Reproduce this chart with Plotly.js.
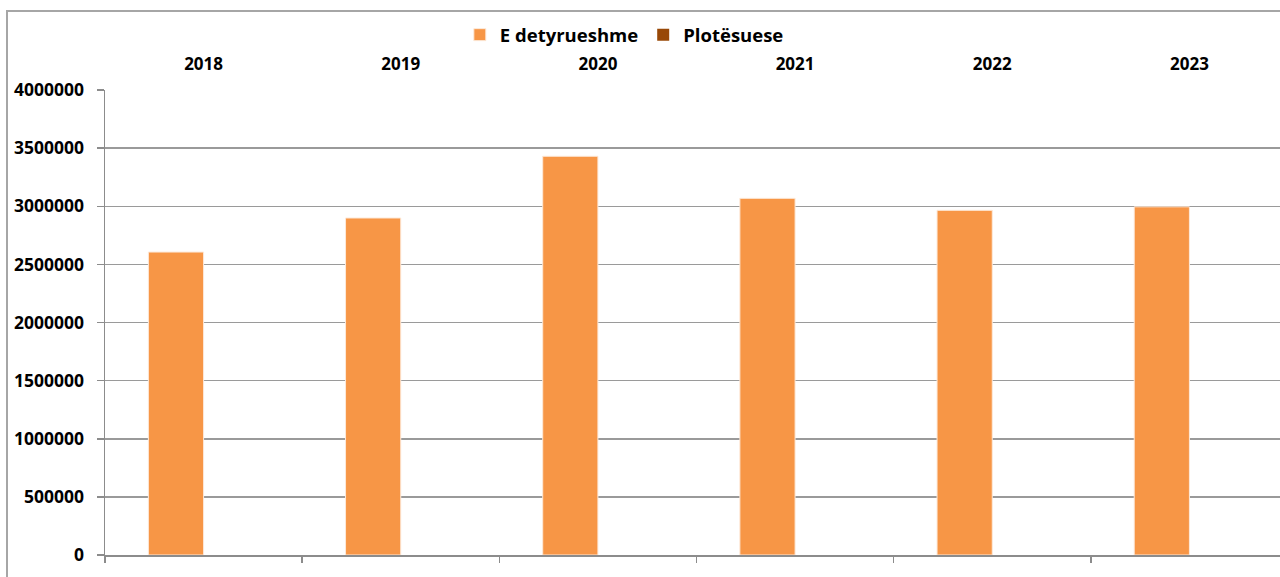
<!DOCTYPE html>
<html>
<head>
<meta charset="utf-8">
<script src="https://cdn.plot.ly/plotly-3.0.1.min.js"></script>
<style>
  html, body { margin: 0; padding: 0; width: 1280px; height: 577px; overflow: hidden; background: #fff; }
  #frame { position: absolute; left: 6px; top: 10px; width: 1320px; height: 620px; border: 2px solid #a6a6a6; box-sizing: border-box; }
  #chart { position: absolute; left: 0; top: 0; }
</style>
</head>
<body>
<div id="frame"></div>
<div id="chart"></div>
<script>
const years = ['2018', '2019', '2020', '2021', '2022', '2023'];
const eDetyrueshme = [2606000, 2899000, 3430000, 3068000, 2965000, 2995000];
const plotesuese = [0, 0, 0, 0, 0, 0];
const yTicks = [0, 500000, 1000000, 1500000, 2000000, 2500000, 3000000, 3500000, 4000000];

const fontFam = '"Open Sans", "Liberation Sans", sans-serif';

const traces = [
  {
    type: 'bar', name: 'E detyrueshme', x: years, y: eDetyrueshme,
    marker: { color: '#F79646', line: { color: '#fde9d9', width: 1 } },
    hoverinfo: 'x+y'
  },
  {
    type: 'bar', name: 'Plotësuese', x: years, y: plotesuese,
    marker: { color: '#984807', line: { width: 0 } },
    hoverinfo: 'x+y'
  },
  {
    type: 'scatter', mode: 'none', x: years, y: eDetyrueshme,
    xaxis: 'x2', showlegend: false, hoverinfo: 'skip'
  }
];

const layout = {
  width: 1300, height: 577,
  margin: { l: 105, r: 12, t: 90, b: 22 },
  paper_bgcolor: 'rgba(0,0,0,0)', plot_bgcolor: 'rgba(0,0,0,0)',
  font: { family: fontFam, size: 17, color: '#000', weight: 'bold' },
  barmode: 'group', bargap: 0.44, bargroupgap: 0,
  showlegend: true,
  legend: {
    orientation: 'h', x: 0.439, xanchor: 'center', y: 1.118, yanchor: 'middle',
    font: { family: fontFam, size: 18.5, color: '#000', weight: 'bold' },
    itemwidth: 30, tracegroupgap: 0, traceorder: 'normal'
  },
  xaxis: {
    type: 'category', range: [-0.5, 5.5],
    showticklabels: false, tickson: 'boundaries', ticks: 'outside', ticklen: 6, tickwidth: 1.5, tickcolor: '#8c8c8c',
    showline: true, linecolor: '#8c8c8c', linewidth: 2, showgrid: false, zeroline: false, fixedrange: true
  },
  xaxis2: {
    type: 'category', overlaying: 'x', side: 'top', range: [-0.5, 5.5],
    showticklabels: true, ticks: '', ticklabelstandoff: 16,
    tickfont: { family: fontFam, size: 17, color: '#000', weight: 'bold' },
    showline: false, showgrid: false, zeroline: false, fixedrange: true
  },
  yaxis: {
    range: [0, 4000000], tickvals: yTicks, ticktext: yTicks.map(String),
    ticks: 'outside', ticklen: 7, tickwidth: 1.5, tickcolor: '#8c8c8c', ticklabelstandoff: 9,
    tickfont: { family: fontFam, size: 17.5, color: '#000', weight: 'bold' },
    showline: true, linecolor: '#8c8c8c', linewidth: 1.5,
    showgrid: true, gridcolor: '#9a9a9a', gridwidth: 1.5, zeroline: false, fixedrange: true
  }
};

Plotly.newPlot('chart', traces, layout, { displayModeBar: false, staticPlot: true });
</script>
</body>
</html>
